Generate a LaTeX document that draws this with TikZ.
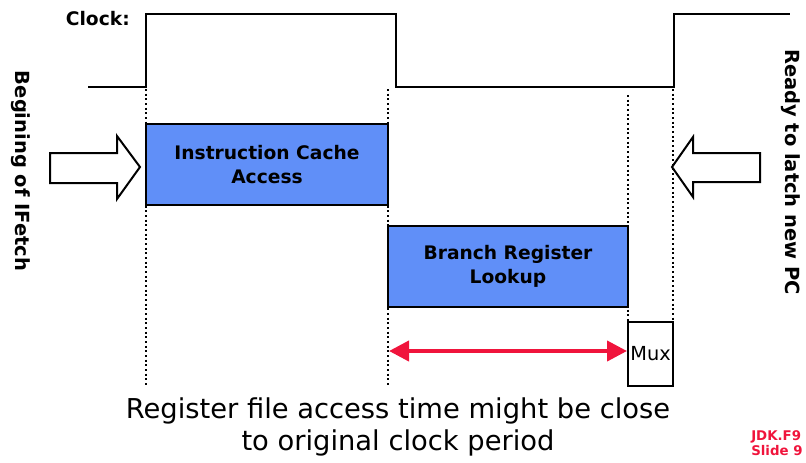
\documentclass[tikz,border=0pt]{standalone}
\usepackage{fontspec}
\setmainfont{DejaVu Sans}
\usetikzlibrary{arrows.meta}
\definecolor{boxblue}{RGB}{96,143,248}
\definecolor{arrowred}{RGB}{240,20,60}
\tikzset{
  wave/.style={line width=2pt, line join=miter},
  guide/.style={line width=1.5pt, dotted},
  stage/.style={draw, line width=2.2pt, fill=boxblue, font=\bfseries\fontsize{14}{18}\selectfont, align=center, inner sep=0pt},
  muxbox/.style={draw, line width=1.5pt, fill=white, inner sep=0pt},
  blockarrow/.style={draw, line width=1.5pt, fill=white, line join=miter},
  sidelabel/.style={font=\bfseries\fontsize{14.6}{17}\selectfont, rotate=-90},
}
\begin{document}
\begin{tikzpicture}[x=0.75pt,y=-0.75pt]
\useasboundingbox (0,0) rectangle (806,462);

% clock waveform
\node[font=\bfseries\fontsize{14}{16}\selectfont, anchor=east, inner sep=0pt] (clk) at (130,19) {Clock:};
\draw[wave] (88,87) -- (146,87) -- (146,14) -- (396,14) -- (396,87) -- (674,87) -- (674,14) -- (790,14);

% timing guides
\coordinate (g1t) at (146,89); \coordinate (g1b) at (146,385);
\coordinate (g2t) at (388,89); \coordinate (g2b) at (388,385);
\coordinate (g3t) at (628,95); \coordinate (g3b) at (628,385);
\coordinate (g4t) at (673,89); \coordinate (g4b) at (673,385);
\draw[guide] (g1t) -- (g1b);
\draw[guide] (g2t) -- (g2b);
\draw[guide] (g3t) -- (g3b);
\draw[guide] (g4t) -- (g4b);

% pipeline stages
\node[stage, minimum width=181.5pt, minimum height=60.75pt] (icache) at (267,164.5) {Instruction Cache\\Access};
\node[stage, minimum width=180pt, minimum height=60.75pt] (breg) at (508,266.5) {Branch Register\\Lookup};
\node[muxbox, minimum width=33.75pt, minimum height=48pt] (mux) at (650.5,354) {};
\node[font=\fontsize{14.5}{16}\selectfont, inner sep=0pt] (muxtext) at (mux.center) {Mux};

% register access span
\coordinate (spanl) at (389,351);
\draw[arrowred, line width=3pt, {Triangle[length=15pt,width=15pt]}-{Triangle[length=15pt,width=15pt]}] (spanl) -- (mux.west |- spanl);

% hollow block arrows
\draw[blockarrow] (50,153) -- (117,153) -- (117,136) -- (140,167) -- (117,199) -- (117,183) -- (50,183) -- cycle;
\draw[blockarrow] (760,153) -- (693,153) -- (693,137) -- (672,167) -- (693,197) -- (693,182) -- (760,182) -- cycle;

% side captions
\node[sidelabel] (begin) at (21,171) {Begining of IFetch};
\node[sidelabel] (ready) at (791,172) {Ready to latch new PC};

% caption
\node[font=\fontsize{20.5}{23.5}\selectfont, align=center] (caption) at (398,427) {Register file access time might be close\\to original clock period};

% slide tag
\node[font=\bfseries\fontsize{10}{11.2}\selectfont, text=arrowred, align=left, anchor=west, inner sep=0pt] (tag) at (751,443) {JDK.F9\\Slide 9};
\end{tikzpicture}
\end{document}
